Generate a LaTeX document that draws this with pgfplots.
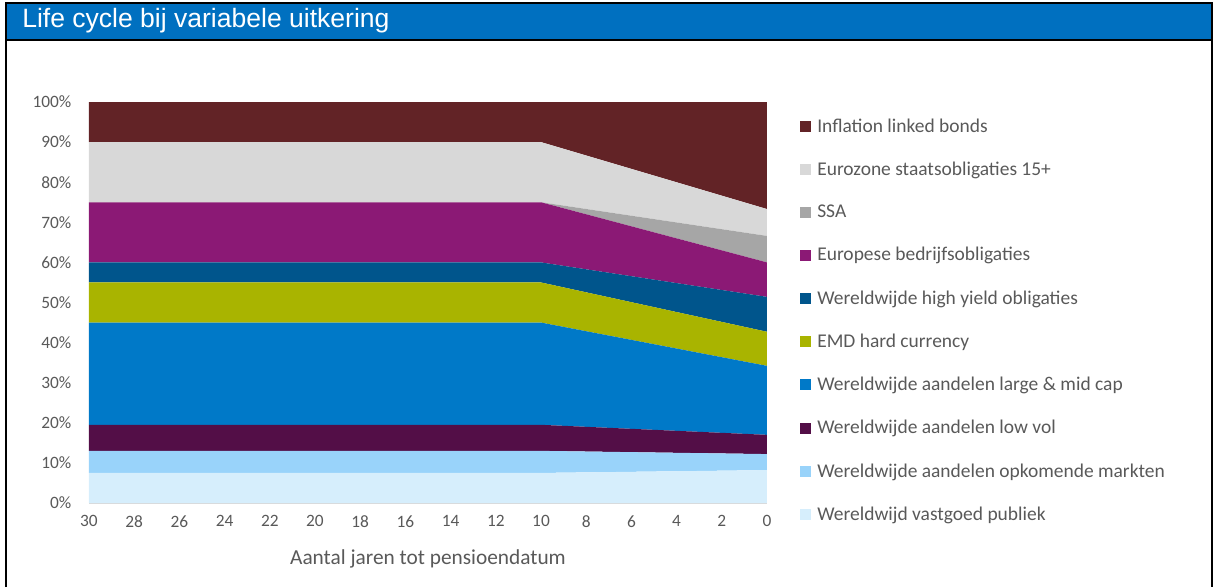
\documentclass[border=0pt]{standalone}
\usepackage{pgfplots}
\pgfplotsset{compat=1.18}
\usepackage{fontspec}
\setmainfont{Carlito}
\newfontfamily\arialfont{Liberation Sans}
\definecolor{titleblue}{RGB}{0,112,192}
\definecolor{txtgrey}{RGB}{89,89,89}
\definecolor{cInfl}{RGB}{98,35,38}
\definecolor{cEuro}{RGB}{216,216,216}
\definecolor{cSSA}{RGB}{166,166,166}
\definecolor{cBedr}{RGB}{139,25,117}
\definecolor{cHY}{RGB}{0,85,140}
\definecolor{cEMD}{RGB}{169,180,0}
\definecolor{cLarge}{RGB}{0,121,200}
\definecolor{cLow}{RGB}{83,14,71}
\definecolor{cOpk}{RGB}{153,211,250}
\definecolor{cVast}{RGB}{214,238,252}
\begin{document}
\begin{tikzpicture}[x=0.75pt,y=0.75pt]
\path[use as bounding box] (0,0) rectangle (1216,587);
\fill[titleblue] (6,547) rectangle (1212,583);
\draw[black,line width=1.8pt] (6,0) -- (6,584) -- (1212,584) -- (1212,0);
\draw[black,line width=1.5pt] (6,546.5) -- (1212,546.5);
\node[anchor=west,text=white,font=\arialfont\fontsize{19.9}{22}\selectfont,inner sep=0] at (22,566) {Life cycle bij variabele uitkering};
\begin{axis}[
  at={(66.75pt,63pt)}, anchor=south west,
  scale only axis, width=508.5pt, height=300.75pt,
  x dir=reverse, xmin=0, xmax=30, ymin=0, ymax=100,
  xtick={0,2,...,30}, ytick={0,10,...,100},
  yticklabel={\pgfmathprintnumber{\tick}\%},
  /pgf/number format/assume math mode=true,
  major tick length=0pt,
  axis x line*=bottom, axis y line*=left,
  y axis line style={draw=none},
  x axis line style={draw=black!15, line width=0.8pt},
  tick label style={font=\fontsize{13}{15}\selectfont, text=txtgrey},
  xticklabel style={yshift=-6pt},
  yticklabel style={xshift=-9.75pt},
  xlabel={Aantal jaren tot pensioendatum},
  xlabel style={font=\fontsize{16}{18}\selectfont, text=txtgrey, yshift=-9.5pt},
  stack plots=y,
  area legend,
  reverse legend,
  legend style={at={(1.0487,0.966)}, anchor=north west, draw=none, fill=none,
    font=\fontsize{14.6}{17}\selectfont, text=txtgrey, row sep=16.8pt, inner sep=0pt,
    cells={anchor=west}, nodes={inner xsep=4.5pt}},
  legend image code/.code={\fill[#1] (0pt,-4pt) rectangle (8.25pt,4.25pt);},
  every axis plot/.append style={draw=none},
]
\addplot[fill=cVast] coordinates {(30,7.5) (10,7.5) (0,8.2)} \closedcycle;
\addlegendentry{Wereldwijd vastgoed publiek}
\addplot[fill=cOpk] coordinates {(30,5.5) (10,5.5) (0,4.0)} \closedcycle;
\addlegendentry{Wereldwijde aandelen opkomende markten}
\addplot[fill=cLow] coordinates {(30,6.5) (10,6.5) (0,4.8)} \closedcycle;
\addlegendentry{Wereldwijde aandelen low vol}
\addplot[fill=cLarge] coordinates {(30,25.5) (10,25.5) (0,17.2)} \closedcycle;
\addlegendentry{Wereldwijde aandelen large \& mid cap}
\addplot[fill=cEMD] coordinates {(30,10) (10,10) (0,8.5)} \closedcycle;
\addlegendentry{EMD hard currency}
\addplot[fill=cHY] coordinates {(30,5) (10,5) (0,8.7)} \closedcycle;
\addlegendentry{Wereldwijde high yield obligaties}
\addplot[fill=cBedr] coordinates {(30,15) (10,15) (0,8.6)} \closedcycle;
\addlegendentry{Europese bedrijfsobligaties}
\addplot[fill=cSSA] coordinates {(30,0) (10,0) (0,6.6)} \closedcycle;
\addlegendentry{SSA}
\addplot[fill=cEuro] coordinates {(30,15) (10,15) (0,6.7)} \closedcycle;
\addlegendentry{Eurozone staatsobligaties 15+}
\addplot[fill=cInfl] coordinates {(30,10) (10,10) (0,26.7)} \closedcycle;
\addlegendentry{Inflation linked bonds}
\end{axis}
\end{tikzpicture}
\end{document}
